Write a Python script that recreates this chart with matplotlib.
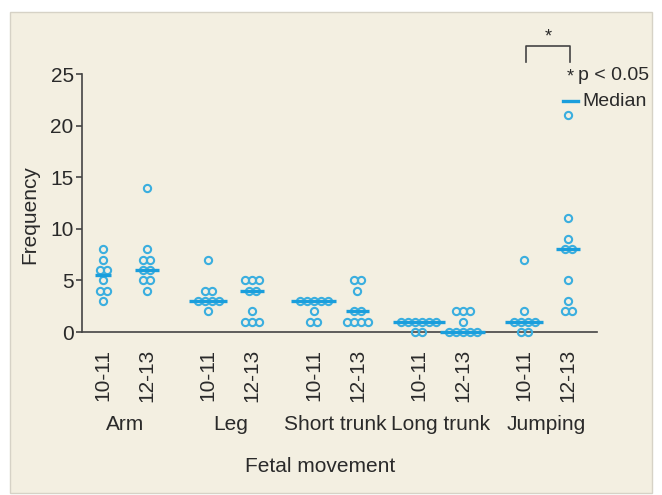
import numpy as np
import matplotlib
matplotlib.use("Agg")
import matplotlib.pyplot as plt
from matplotlib.patches import Rectangle
from matplotlib.lines import Line2D
import matplotlib.transforms as mtransforms

plt.rcParams['font.family'] = ['Liberation Sans', 'DejaVu Sans']

movements = ["Arm", "Leg", "Short trunk", "Long trunk", "Jumping"]
weeks = ["10-11", "12-13"]

arm_10_11 = [8, 7, 6, 6, 5, 4, 4, 3]
arm_12_13 = [14, 8, 7, 7, 6, 6, 5, 5, 4]
leg_10_11 = [7, 4, 4, 3, 3, 3, 3, 2]
leg_12_13 = [5, 5, 5, 4, 4, 2, 1, 1, 1]
short_10_11 = [3, 3, 3, 3, 3, 2, 1, 1]
short_12_13 = [5, 5, 4, 2, 2, 1, 1, 1, 1]
long_10_11 = [1, 1, 1, 1, 1, 1, 0, 0]
long_12_13 = [2, 2, 2, 1, 0, 0, 0, 0, 0]
jump_10_11 = [7, 2, 1, 1, 1, 1, 0, 0]
jump_12_13 = [21, 11, 9, 8, 8, 5, 3, 2, 2]

groups = [
    (arm_10_11, arm_12_13),
    (leg_10_11, leg_12_13),
    (short_10_11, short_12_13),
    (long_10_11, long_12_13),
    (jump_10_11, jump_12_13),
]

W, H = 662, 495
fig = plt.figure(figsize=(W / 100, H / 100), dpi=100, facecolor='white')

# beige panel
panel = Rectangle((10 / W, 1 - 493 / H), 642 / W, 481 / H,
                  transform=fig.transFigure, facecolor='#f3efe1',
                  edgecolor='#d6d2c6', lw=1.0, zorder=-10)
fig.add_artist(panel)

ax = fig.add_axes([82 / W, 1 - 332 / H, (597 - 82) / W, (332 - 74) / H])
ax.set_facecolor('none')
ax.set_zorder(5)

circ_col = '#3aaedf'
med_col = '#1a9edc'
axis_col = '#444444'
txt_col = '#2a2a2a'
dx = 0.16
group_step = 2.4

positions = []
labels = []
for gi, pair in enumerate(groups):
    for wi, vals in enumerate(pair):
        xc = gi * group_step + wi
        positions.append(xc)
        labels.append(weeks[wi])
        vals = np.array(vals)
        xs, ys = [], []
        for v in np.unique(vals):
            n = int(np.sum(vals == v))
            offs = (np.arange(n) - (n - 1) / 2) * dx
            xs.extend(xc + offs)
            ys.extend([v] * n)
        ax.plot(xs, ys, 'o', ms=5.2, mfc='none', mec=circ_col, mew=1.5,
                clip_on=False, zorder=3)
        med = np.median(vals)
        nrow = int(np.sum(vals == med))
        half = (max(nrow, 1) - 1) * dx / 2 + 0.19
        ax.plot([xc - half, xc + half], [med, med], color=med_col, lw=2.4,
                solid_capstyle='butt', clip_on=False, zorder=4)

ax.set_xlim(-0.48, 4 * group_step + 1 + 0.66)
ax.set_ylim(0, 25)
ax.set_yticks([0, 5, 10, 15, 20, 25])
ax.set_xticks(positions)
ax.set_xticklabels(labels, rotation=90, va='top', ha='center')

for s in ['top', 'right']:
    ax.spines[s].set_visible(False)
for s in ['left', 'bottom']:
    ax.spines[s].set_color(axis_col)
    ax.spines[s].set_linewidth(1.2)

ax.tick_params(axis='y', length=4, width=1.2, color=axis_col, labelsize=15,
               labelcolor=txt_col, pad=2)
ax.tick_params(axis='x', length=0, labelsize=15, labelcolor=txt_col, pad=12)

fig.text(30 / W, 1 - 215 / H, 'Frequency', rotation=90, ha='center', va='center',
         fontsize=15, color=txt_col)

trans = mtransforms.blended_transform_factory(ax.transData, fig.transFigure)
for gi, name in enumerate(movements):
    ax.text(gi * group_step + 0.5, 1 - 424 / H, name, transform=trans,
            ha='center', va='center', fontsize=15, color=txt_col)

fig.text(320 / W, 1 - 466 / H, 'Fetal movement', ha='center', va='center',
         fontsize=15, color=txt_col)

# significance bracket
x1 = 4 * group_step + 0.05
x2 = 4 * group_step + 1.05
ax.plot([x1, x1, x2, x2], [26.2, 27.7, 27.7, 26.2], color=axis_col, lw=1.2,
        clip_on=False)
ax.text((x1 + x2) / 2, 28.6, '*', ha='center', va='center', fontsize=13,
        color=txt_col, clip_on=False)

# legend
fig.text(570 / W, 1 - 77 / H, '*', ha='center', va='center', fontsize=13, color=txt_col)
fig.text(578 / W, 1 - 75 / H, 'p < 0.05', ha='left', va='center', fontsize=14, color=txt_col)
fig.add_artist(Line2D([563 / W, 578 / W], [1 - 101 / H, 1 - 101 / H],
                      transform=fig.transFigure, color=med_col, lw=2.4))
fig.text(582 / W, 1 - 101 / H, 'Median', ha='left', va='center', fontsize=14, color=txt_col)

fig.savefig('out.png', dpi=100, facecolor='white')
